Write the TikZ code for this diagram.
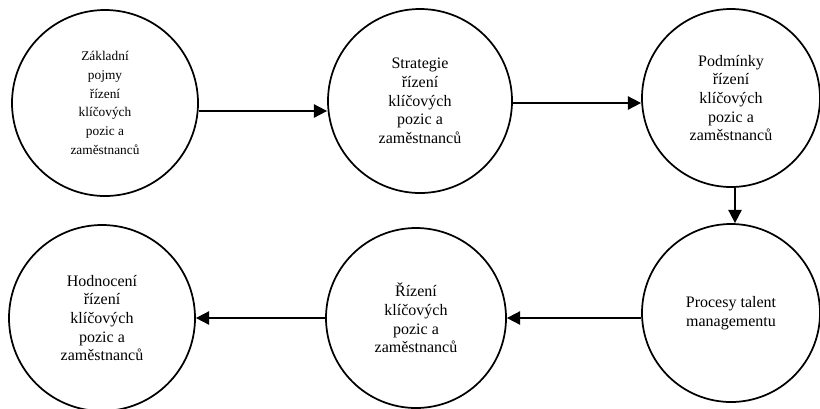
\documentclass[tikz,border=0pt]{standalone}
\usepackage{fontspec}
\setmainfont{Liberation Serif}
\usetikzlibrary{arrows.meta}

\tikzset{
  stage/.style={draw, circle, line width=1.3pt, align=center,
    inner sep=0pt, font=\fontsize{12}{14}\selectfont},
  flow/.style={line width=1.3pt, -{Triangle[length=10pt, width=10pt]}}
}

\begin{document}
\begin{tikzpicture}[x=0.75pt, y=-0.75pt]

  \useasboundingbox (0,0) rectangle (820,408);

  % --- Top row ---
  \node[stage, minimum size=139.5pt, font=\fontsize{10}{14}\selectfont] (zaklad) at (105,103)
    {Základní\\pojmy\\řízení\\klíčových\\pozic a\\zaměstnanců};
  \node[stage, minimum size=138pt] (strat) at (420,101)
    {Strategie\\řízení\\klíčových\\pozic a\\zaměstnanců};
  \node[stage, minimum size=133.5pt] (podm) at (731,98)
    {Podmínky\\řízení\\klíčových\\pozic a\\zaměstnanců};

  % --- Bottom row ---
  \node[stage, minimum size=133.5pt] (proc) at (731,313)
    {Procesy talent\\managementu};
  \node[stage, minimum size=135pt] (rizeni) at (416,318)
    {Řízení\\klíčových\\pozic a\\zaměstnanců};
  \node[stage, minimum size=139.5pt] (hodn) at (102,318)
    {Hodnocení\\řízení\\klíčových\\pozic a\\zaměstnanců};

  % --- Arrows ---
  \draw[flow] ([yshift=-6pt]zaklad.east) -- ([yshift=-6pt]zaklad.east -| strat.west);
  \draw[flow] ([yshift=-1.5pt]strat.east) -- ([yshift=-1.5pt]strat.east -| podm.west);
  \draw[flow] ([xshift=3pt]podm.south) -- ([xshift=3pt]podm.south |- proc.north);
  \draw[flow] (rizeni.east -| proc.west) -- (rizeni.east);
  \draw[flow] (rizeni.west) -- (hodn.east);

\end{tikzpicture}
\end{document}
